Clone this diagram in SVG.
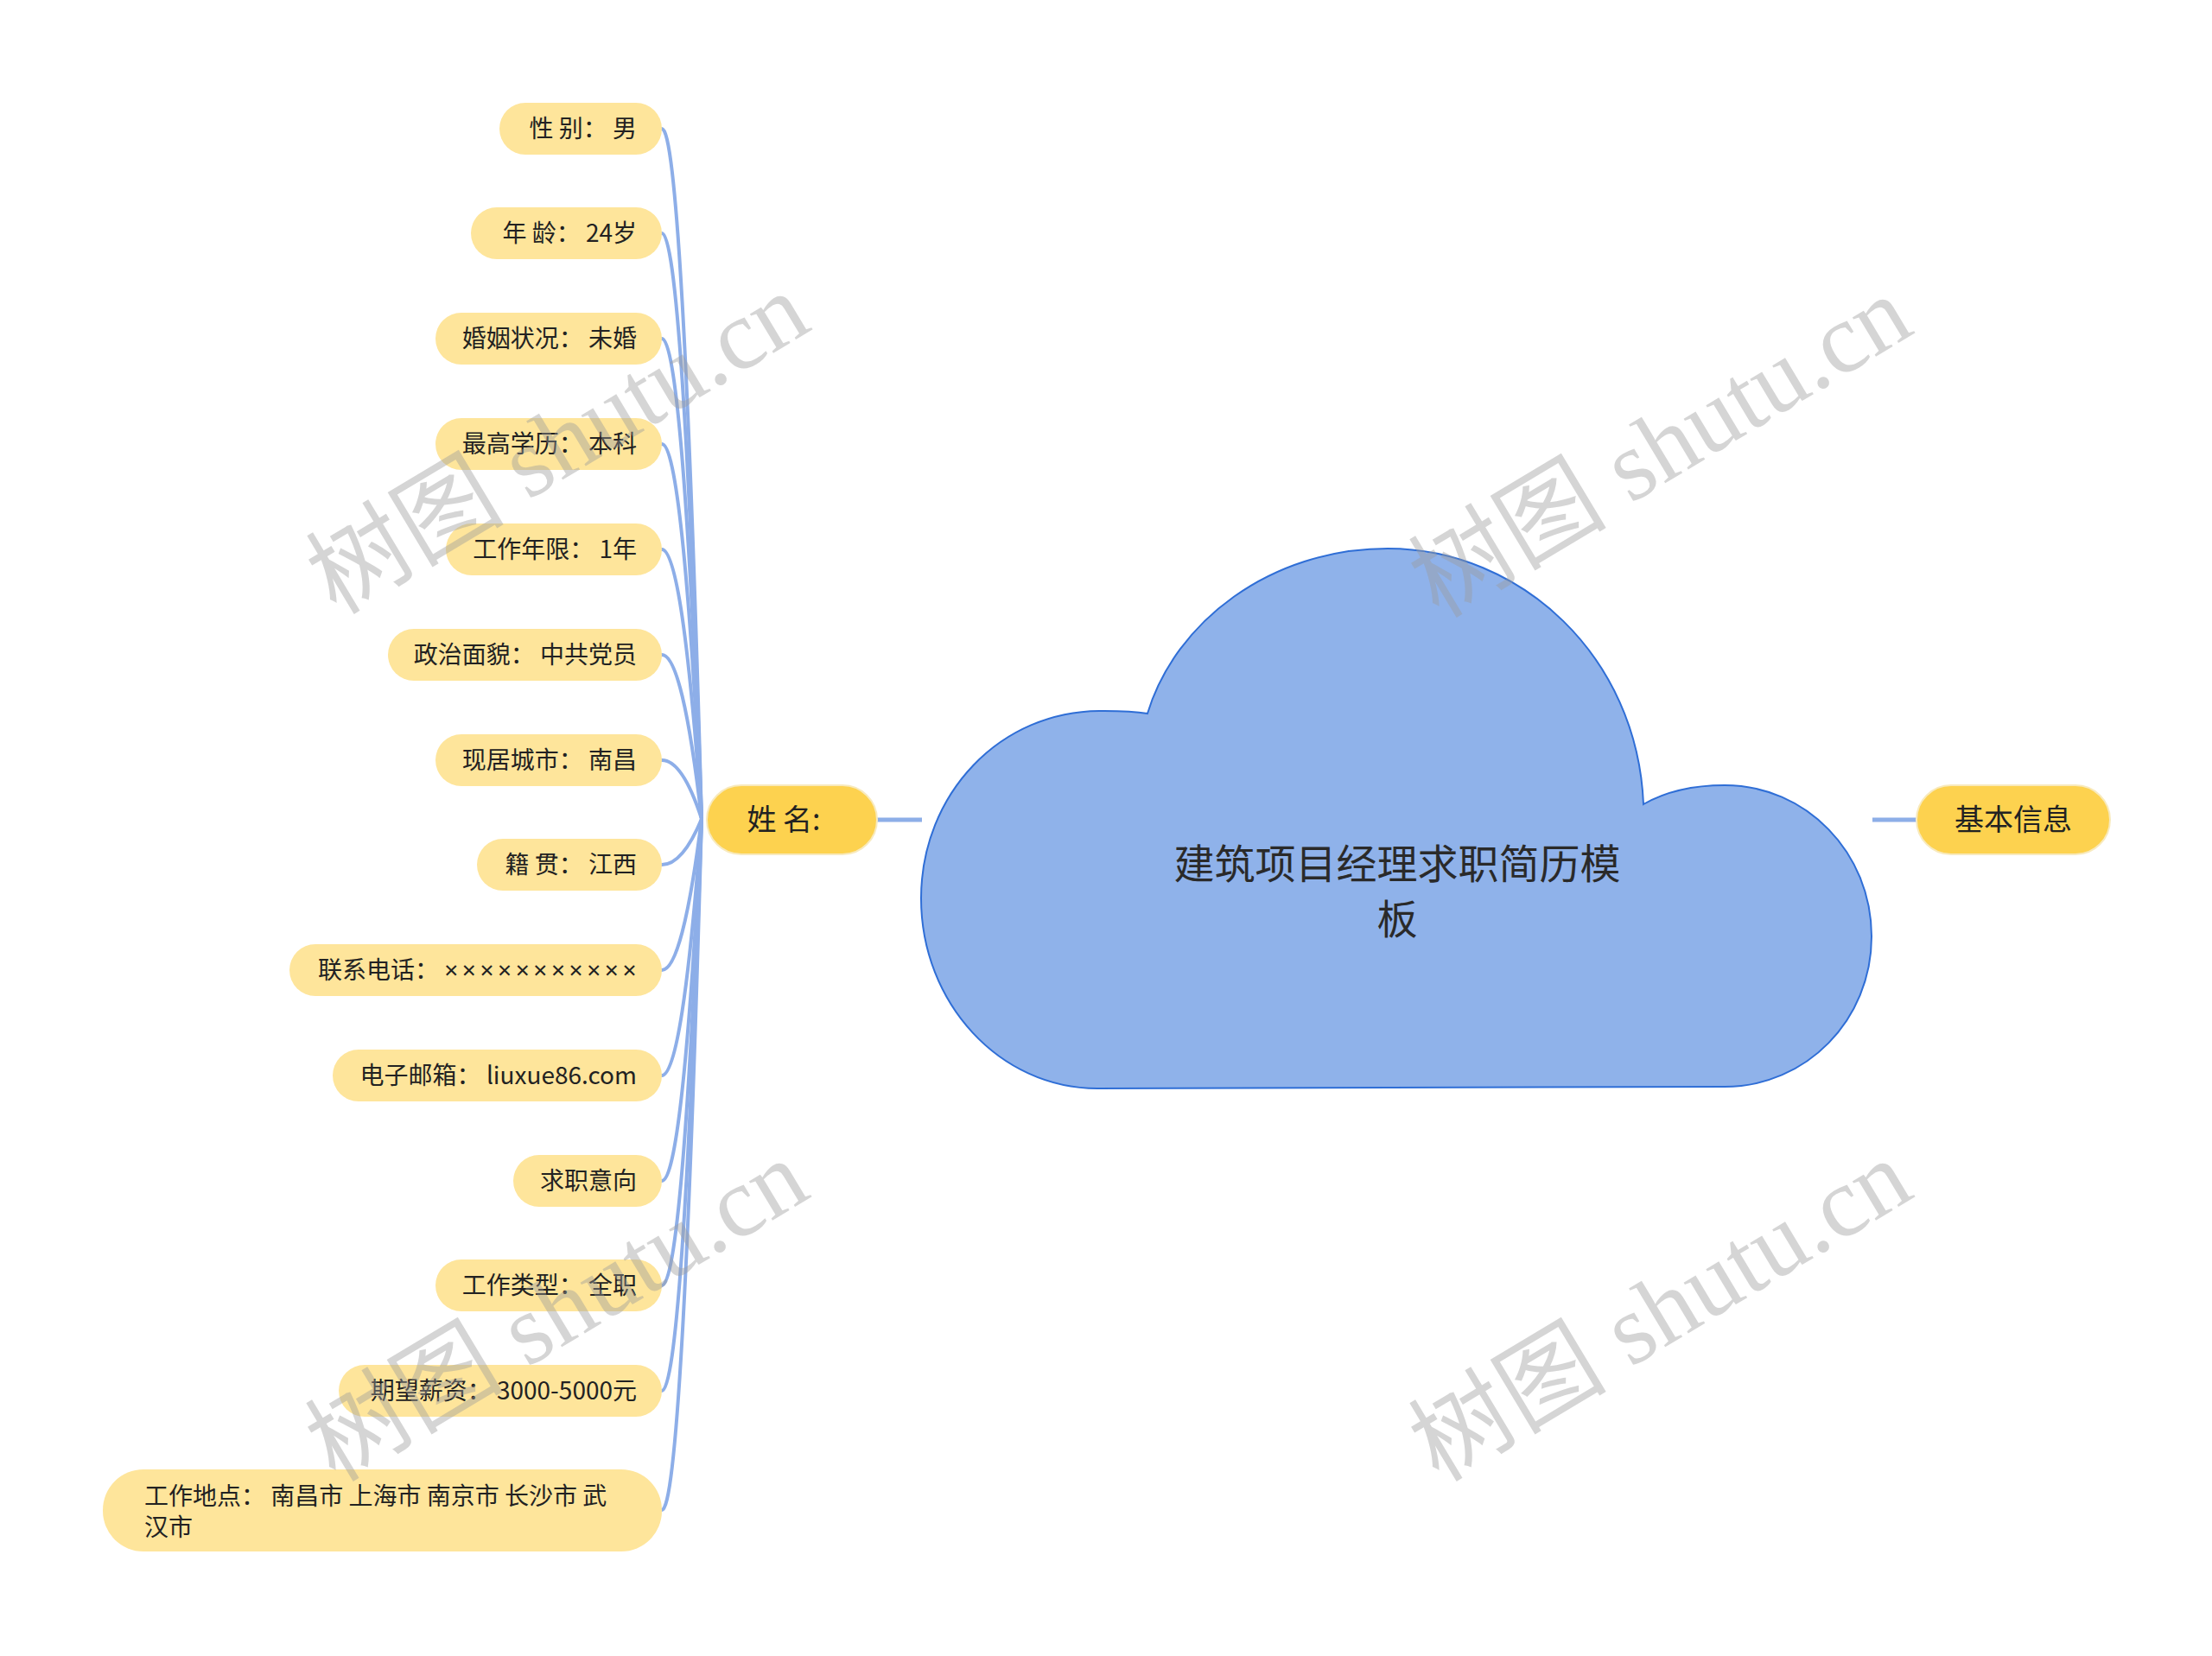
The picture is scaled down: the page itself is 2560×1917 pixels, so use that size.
<svg xmlns="http://www.w3.org/2000/svg" width="2560" height="1917" viewBox="0 0 2560 1917">
<style>
.leaf{fill:#FEE59B;}
.lt{font-family:"Noto Sans CJK SC","Noto Sans",sans-serif;font-size:28px;fill:#222;text-anchor:end;}
.x{font-family:"Noto Sans",sans-serif;letter-spacing:4.6px;}
.main{fill:#FDD24F;stroke:#F8EABD;stroke-width:2;}
.mt{font-family:"Noto Sans CJK SC","Noto Sans",sans-serif;font-size:34px;fill:#222;text-anchor:middle;}
.conn{fill:none;stroke:#8DAEE8;stroke-width:4;stroke-linecap:round;}
.trunk{fill:none;stroke:#8DAEE8;stroke-width:5;}
.wm{font-family:"Liberation Serif","Noto Sans CJK SC",serif;font-size:115px;fill:#9a9a9a;fill-opacity:0.42;text-anchor:middle;}
</style>
<rect width="2560" height="1917" fill="#ffffff"/>
<g id="connectors">
<path class="trunk" d="M1015 949 L1067 949"/>
<path class="trunk" d="M2167 949 L2218 949"/>
<path class="conn" d="M766 149 Q790 149 812 948"/>
<path class="conn" d="M766 270 Q790 270 812 948"/>
<path class="conn" d="M766 392 Q790 392 812 948"/>
<path class="conn" d="M766 514 Q790 514 812 948"/>
<path class="conn" d="M766 636 Q790 636 812 948"/>
<path class="conn" d="M766 758 Q790 758 812 948"/>
<path class="conn" d="M766 880 Q790 880 812 948"/>
<path class="conn" d="M766 1001 Q790 1001 812 948"/>
<path class="conn" d="M766 1123 Q790 1123 812 948"/>
<path class="conn" d="M766 1245 Q790 1245 812 948"/>
<path class="conn" d="M766 1367 Q790 1367 812 948"/>
<path class="conn" d="M766 1488 Q790 1488 812 948"/>
<path class="conn" d="M766 1610 Q790 1610 812 948"/>
<path class="conn" d="M766 1748 Q790 1748 812 948"/>
</g>
<g id="root">
<path d="M1328 826 C1360 720 1470 635 1606 635 C1760 635 1895 760 1902 931 C1930 915 1960 909 1996 909 C2090 909 2166 987 2166 1084 C2166 1181 2090 1258 1996 1258 L1270 1260 C1157 1260 1066 1161 1066 1040 C1066 920 1157 821 1278 823 C1300 823 1316 824 1328 826 Z" fill="#8FB2EA" stroke="#2F6ED6" stroke-width="2"/>
<text font-family="'Noto Sans CJK SC','Noto Sans',sans-serif" font-size="47" fill="#2a2a2a" text-anchor="middle"><tspan x="1617" y="1017">建筑项目经理求职简历模</tspan><tspan x="1617" y="1081">板</tspan></text>
</g>
<g id="n-name"><rect class="main" x="818" y="909" width="197" height="80" rx="40"/><text class="mt" x="907" y="961">姓 名:</text></g>
<g id="n-basic"><rect class="main" x="2218" y="909" width="224" height="80" rx="40"/><text class="mt" x="2330" y="961">基本信息</text></g>
<g id="leaf1"><rect class="leaf" x="578" y="119" width="188" height="60" rx="30"/><text class="lt" x="737" y="159">性 别： 男</text></g>
<g id="leaf2"><rect class="leaf" x="545" y="240" width="221" height="60" rx="30"/><text class="lt" x="737" y="280">年 龄： 24岁</text></g>
<g id="leaf3"><rect class="leaf" x="504" y="362" width="262" height="60" rx="30"/><text class="lt" x="737" y="402">婚姻状况： 未婚</text></g>
<g id="leaf4"><rect class="leaf" x="504" y="484" width="262" height="60" rx="30"/><text class="lt" x="737" y="524">最高学历： 本科</text></g>
<g id="leaf5"><rect class="leaf" x="516" y="606" width="250" height="60" rx="30"/><text class="lt" x="737" y="646">工作年限： 1年</text></g>
<g id="leaf6"><rect class="leaf" x="449" y="728" width="317" height="60" rx="30"/><text class="lt" x="737" y="768">政治面貌： 中共党员</text></g>
<g id="leaf7"><rect class="leaf" x="504" y="850" width="262" height="60" rx="30"/><text class="lt" x="737" y="890">现居城市： 南昌</text></g>
<g id="leaf8"><rect class="leaf" x="552" y="971" width="214" height="60" rx="30"/><text class="lt" x="737" y="1011">籍 贯： 江西</text></g>
<g id="leaf9"><rect class="leaf" x="335" y="1093" width="431" height="60" rx="30"/><text class="lt" x="741" y="1133">联系电话： <tspan class="x">×××××××××××</tspan></text></g>
<g id="leaf10"><rect class="leaf" x="385" y="1215" width="381" height="60" rx="30"/><text class="lt" x="737" y="1255">电子邮箱： liuxue86.com</text></g>
<g id="leaf11"><rect class="leaf" x="594" y="1337" width="172" height="60" rx="30"/><text class="lt" x="737" y="1377">求职意向</text></g>
<g id="leaf12"><rect class="leaf" x="504" y="1458" width="262" height="60" rx="30"/><text class="lt" x="737" y="1498">工作类型： 全职</text></g>
<g id="leaf13"><rect class="leaf" x="392" y="1580" width="374" height="60" rx="30"/><text class="lt" x="737" y="1620">期望薪资： 3000-5000元</text></g>
<g id="leaf14"><rect class="leaf" x="119" y="1701" width="647" height="95" rx="47"/><text class="lt" style="text-anchor:start"><tspan x="167" y="1742">工作地点： 南昌市 上海市 南京市 长沙市 武</tspan><tspan x="167" y="1778">汉市</tspan></text></g>
<g id="watermarks">
<text class="wm" transform="translate(646 514) rotate(-31)" x="0" y="38">树图 shutu.cn</text>
<text class="wm" transform="translate(1922 518) rotate(-31)" x="0" y="38">树图 shutu.cn</text>
<text class="wm" transform="translate(645 1518) rotate(-31)" x="0" y="38">树图 shutu.cn</text>
<text class="wm" transform="translate(1922 1518) rotate(-31)" x="0" y="38">树图 shutu.cn</text>
</g>
</svg>
